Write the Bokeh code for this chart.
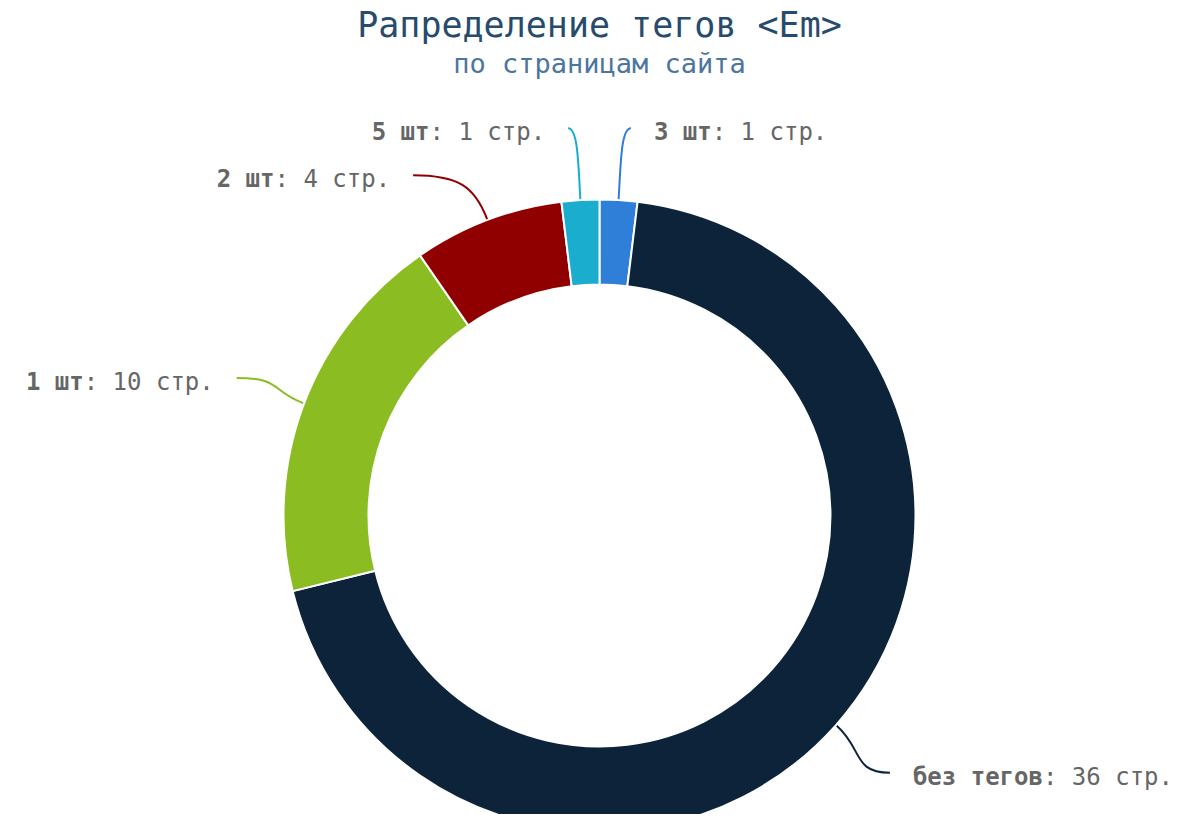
import math
from bokeh.plotting import figure
from bokeh.models import Range1d
from bokeh.embed import file_html
from bokeh.resources import INLINE
from bokeh.core.properties import value

# ---- data ----
categories = ["3 шт", "без тегов", "1 шт", "2 шт", "5 шт"]
pages = [1, 36, 10, 4, 1]
colors = ["#2f7ed8", "#0d233a", "#8bbc21", "#910000", "#1aadce"]
title_text = "Рапределение тегов <Em>"
subtitle_text = "по страницам сайта"
suffix = "стр."

# ---- layout (pixel coords of the picture) ----
M = 8
FW, FH = 1195 - 2 * M, 830 - 2 * M
CX, CY = 599, 515
R_OUT, R_IN = 316, 231
LABEL_R = 388
GAP = 47
FONT = "DejaVu Sans Mono"
LBL_SIZE = 24
CHAR_W = 0.602 * LBL_SIZE
TEXT_PAD = 23
TEXT_DY = 4


def Y(ypix):
    return FH - ypix


p = figure(width=FW, height=FH, output_backend="svg",
           toolbar_location=None, x_range=Range1d(0, FW),
           y_range=Range1d(0, FH), min_border=0)
p.axis.visible = False
p.grid.visible = False
p.outline_line_color = None
p.background_fill_color = "white"
p.border_fill_color = "white"

total = float(sum(pages))
starts, ends, mids = [], [], []
acc = 0.0
for v in pages:
    a0 = acc / total * 2 * math.pi
    acc += v
    a1 = acc / total * 2 * math.pi
    starts.append(a0)
    ends.append(a1)
    mids.append((a0 + a1) / 2)

# wedges (clockwise from top -> bokeh angles)
p.annular_wedge(x=[CX] * len(pages), y=[Y(CY)] * len(pages),
                inner_radius=R_IN, outer_radius=R_OUT,
                start_angle=[math.pi / 2 - e for e in ends],
                end_angle=[math.pi / 2 - s for s in starts],
                fill_color=colors, line_color="white", line_width=2)

# label positions with simple collision avoidance
nat = []
for i, t in enumerate(mids):
    side = 1 if math.sin(t) >= 0 else -1
    nat.append((side, CY - LABEL_R * math.cos(t), i))
lab_y = {}
for side in (1, -1):
    items = sorted([n for n in nat if n[0] == side], key=lambda n: n[1])
    prev = None
    for s, y, i in items:
        if prev is not None and y < prev + GAP:
            y = prev + GAP
        lab_y[i] = y
        prev = y

for i, t in enumerate(mids):
    side = 1 if math.sin(t) >= 0 else -1
    ly = lab_y[i]
    dy = ly - CY
    lx = CX + side * math.sqrt(max(LABEL_R ** 2 - dy ** 2, 0))
    ex, ey = CX + (R_OUT + 1) * math.sin(t), CY - (R_OUT + 1) * math.cos(t)
    c2x, c2y = CX + (R_OUT + 36) * math.sin(t), CY - (R_OUT + 36) * math.cos(t)
    c1x, c1y = lx - side * min(45, abs(lx - ex) * 0.7), ly
    if abs(lx - ex) < 15:
        # near-vertical connectors get a small hook toward the label
        lx = lx + side * 8
        c1x = lx - side * 10
    p.bezier(x0=[lx], y0=[Y(ly)], x1=[ex], y1=[Y(ey)],
             cx0=[c1x], cy0=[Y(c1y)], cx1=[c2x], cy1=[Y(c2y)],
             line_color=colors[i], line_width=2)

    bold = categories[i]
    rest = ": %d %s" % (pages[i], suffix)
    if side > 0:
        bx = lx + TEXT_PAD
        rx = bx + len(bold) * CHAR_W
    else:
        rx = lx - TEXT_PAD - len(rest) * CHAR_W
        bx = rx - len(bold) * CHAR_W
    ty = Y(ly + TEXT_DY)
    p.text(x=[bx], y=[ty], text=[bold], text_font=value(FONT),
           text_font_size="%.1fpx" % LBL_SIZE, text_font_style="bold",
           text_color="#666666", text_align="left", text_baseline="middle")
    p.text(x=[rx], y=[ty], text=[rest], text_font=value(FONT),
           text_font_size="%.1fpx" % LBL_SIZE,
           text_color="#666666", text_align="left", text_baseline="middle")

# titles
p.text(x=[CX], y=[Y(24)], text=[title_text], text_font=value(FONT),
       text_font_size="35px", text_color="#274b6d", text_align="center",
       text_baseline="alphabetic")
p.text(x=[CX], y=[Y(63)], text=[subtitle_text], text_font=value(FONT),
       text_font_size="27px", text_color="#4d759e", text_align="center",
       text_baseline="alphabetic")

open("out.html", "w").write(file_html(p, INLINE))
